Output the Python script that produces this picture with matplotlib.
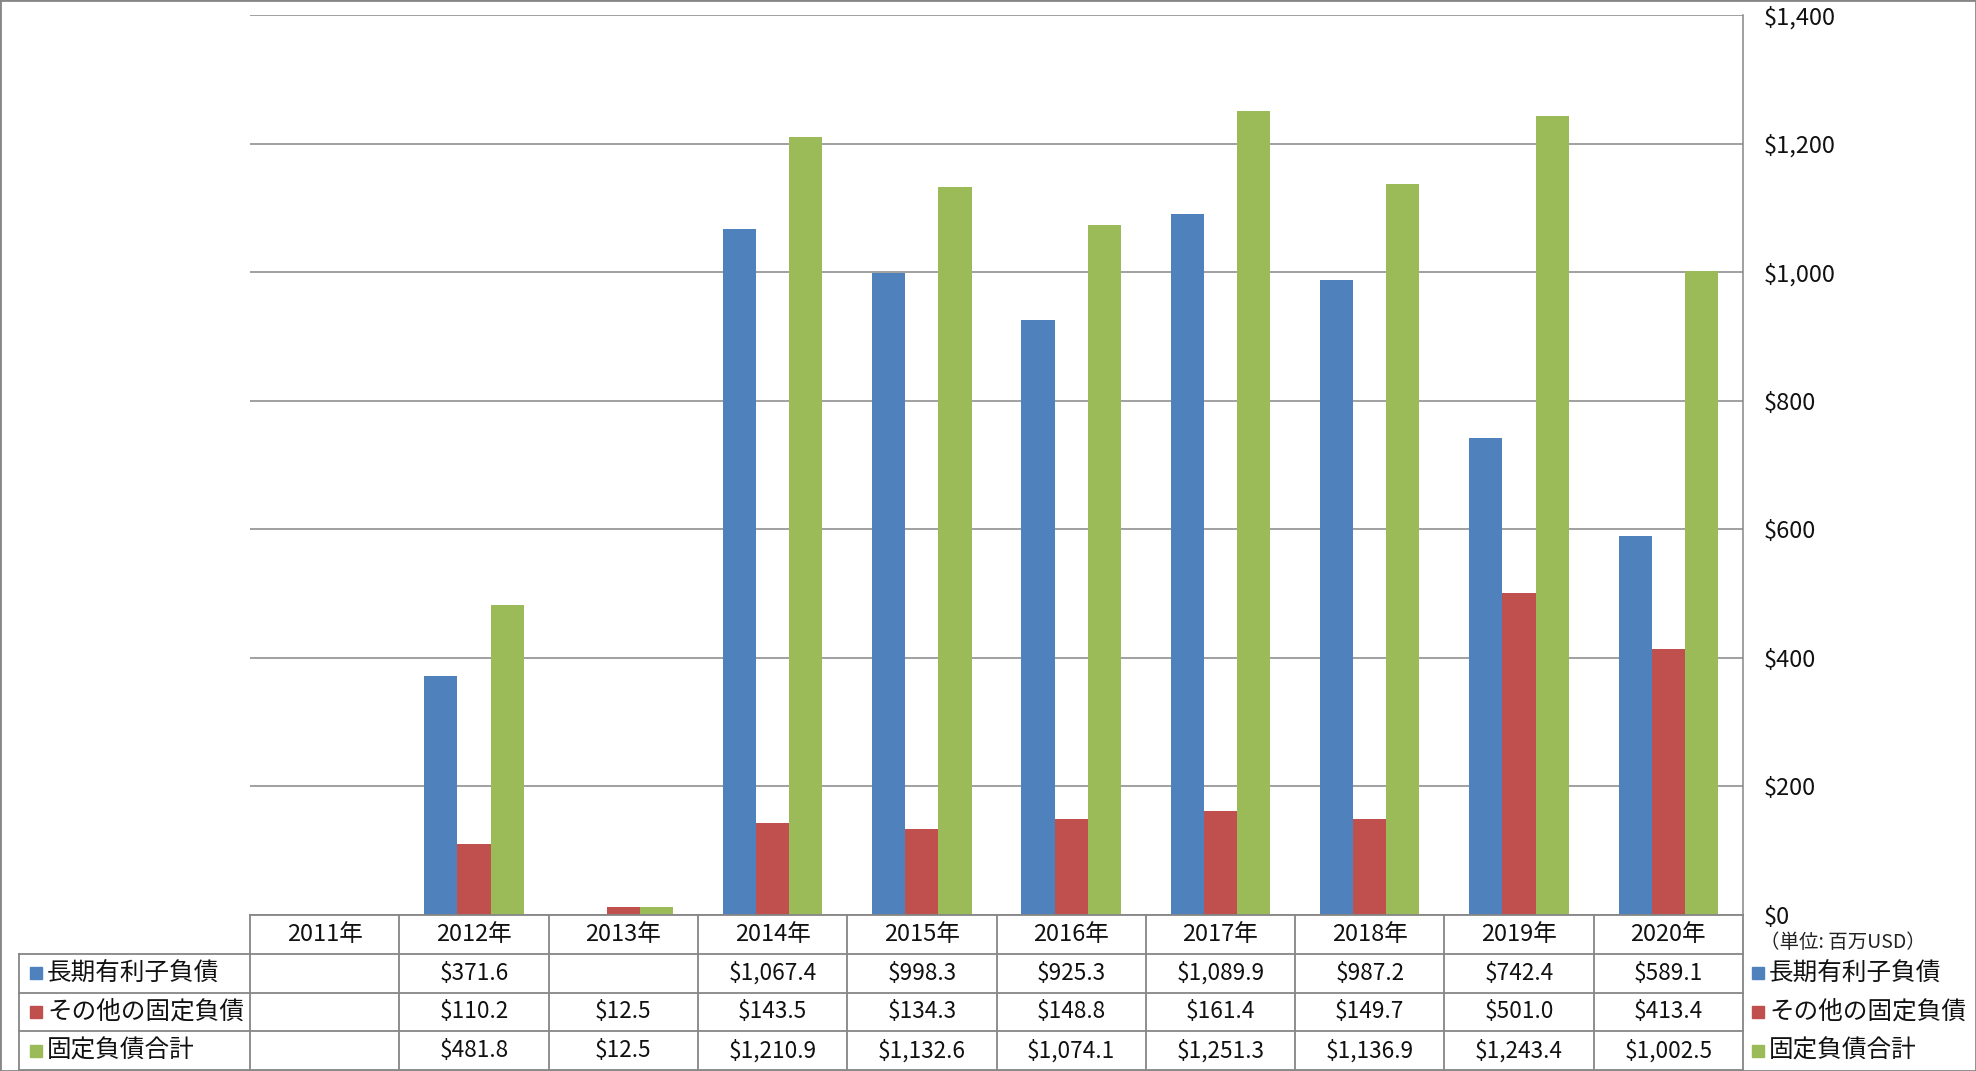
import numpy as np
import matplotlib.pyplot as plt
from matplotlib.patches import Rectangle
from matplotlib.ticker import FuncFormatter, MultipleLocator
from matplotlib.transforms import blended_transform_factory

plt.rcParams['font.family'] = ['Noto Sans CJK JP', 'DejaVu Sans']

years = ["2011年", "2012年", "2013年", "2014年", "2015年",
         "2016年", "2017年", "2018年", "2019年", "2020年"]
series_names = ["長期有利子負債", "その他の固定負債", "固定負債合計"]
long_term_debt = [np.nan, 371.6, np.nan, 1067.4, 998.3, 925.3, 1089.9, 987.2, 742.4, 589.1]
other_fixed = [np.nan, 110.2, 12.5, 143.5, 134.3, 148.8, 161.4, 149.7, 501.0, 413.4]
total_fixed = [np.nan, 481.8, 12.5, 1210.9, 1132.6, 1074.1, 1251.3, 1136.9, 1243.4, 1002.5]
unit_label = "（単位: 百万USD）"

colors = ["#4F81BD", "#C0504D", "#9BBB59"]
grid_col = "#868686"
series = [long_term_debt, other_fixed, total_fixed]

W, H = 1976, 1071
def rect(l, t, r, b):
    return [l / W, 1 - b / H, (r - l) / W, (b - t) / H]

fig = plt.figure(figsize=(W / 100, H / 100), dpi=100)
fig.patches.append(Rectangle((0, 0), 1, 1, transform=fig.transFigure, fill=False,
                             edgecolor=grid_col, linewidth=2))

# main bar chart
ax = fig.add_axes(rect(250, 15, 1743, 915))
x = np.arange(len(years))
bw = 0.222
for i, (vals, c) in enumerate(zip(series, colors)):
    ax.bar(x + (i - 1) * bw, np.nan_to_num(vals), width=bw, color=c, zorder=3)

ax.set_xlim(-0.5, len(years) - 0.5)
ax.set_ylim(0, 1400)
ax.yaxis.set_major_locator(MultipleLocator(200))
ax.yaxis.set_major_formatter(FuncFormatter(lambda v, p: f"${v:,.0f}"))
ax.yaxis.tick_right()
ax.tick_params(axis="y", length=0, pad=15, labelsize=17, labelcolor="#111111")
ax.tick_params(axis="x", length=0, labelbottom=False)
ax.grid(axis="y", color=grid_col, linewidth=1.1, zorder=0)
for s in ["left", "top", "bottom"]:
    ax.spines[s].set_visible(False)
ax.spines["right"].set_color(grid_col)
ax.spines["right"].set_linewidth(1.1)

fig.text(1760 / W, 1 - 943 / H, unit_label, fontsize=14, va="center", ha="left", color="#222222")

# data table below
tax = fig.add_axes(rect(250, 915, 1743, 1070))
tax.set_xlim(-0.5, len(years) - 0.5)
tax.set_ylim(4, 0)
tax.axis("off")
col_px = (1743 - 250) / len(years)
lab_left = -0.5 - (250 - 19) / col_px

lkw = dict(color=grid_col, linewidth=1.3, clip_on=False)
for k in range(len(years) + 1):
    tax.plot([k - 0.5, k - 0.5], [0, 4], **lkw)
tax.plot([-0.5, len(years) - 0.5], [0, 0], **lkw)
for r in range(1, 5):
    tax.plot([lab_left, len(years) - 0.5], [r, r], **lkw)
tax.plot([lab_left, lab_left], [1, 4], **lkw)

for k, yr in enumerate(years):
    tax.text(k, 0.5, yr, ha="center", va="center", fontsize=17, color="#111111")
for r, vals in enumerate(series):
    for k, v in enumerate(vals):
        if not np.isnan(v):
            tax.text(k, r + 1.5, f"${v:,.1f}", ha="center", va="center",
                     fontsize=16.3, color="#111111")

tr = blended_transform_factory(fig.transFigure, tax.transData)
for r, (name, c) in enumerate(zip(series_names, colors)):
    yy = r + 1.5
    tax.plot([36 / W], [yy], marker="s", markersize=8, color=c, transform=tr, clip_on=False)
    tax.text(47 / W, yy, name, transform=tr, ha="left", va="center", fontsize=17.7, color="#111111")
    tax.plot([1758 / W], [yy], marker="s", markersize=8, color=c, transform=tr, clip_on=False)
    tax.text(1769 / W, yy, name, transform=tr, ha="left", va="center", fontsize=17.7, color="#111111")

fig.savefig("out.png", dpi=100)
